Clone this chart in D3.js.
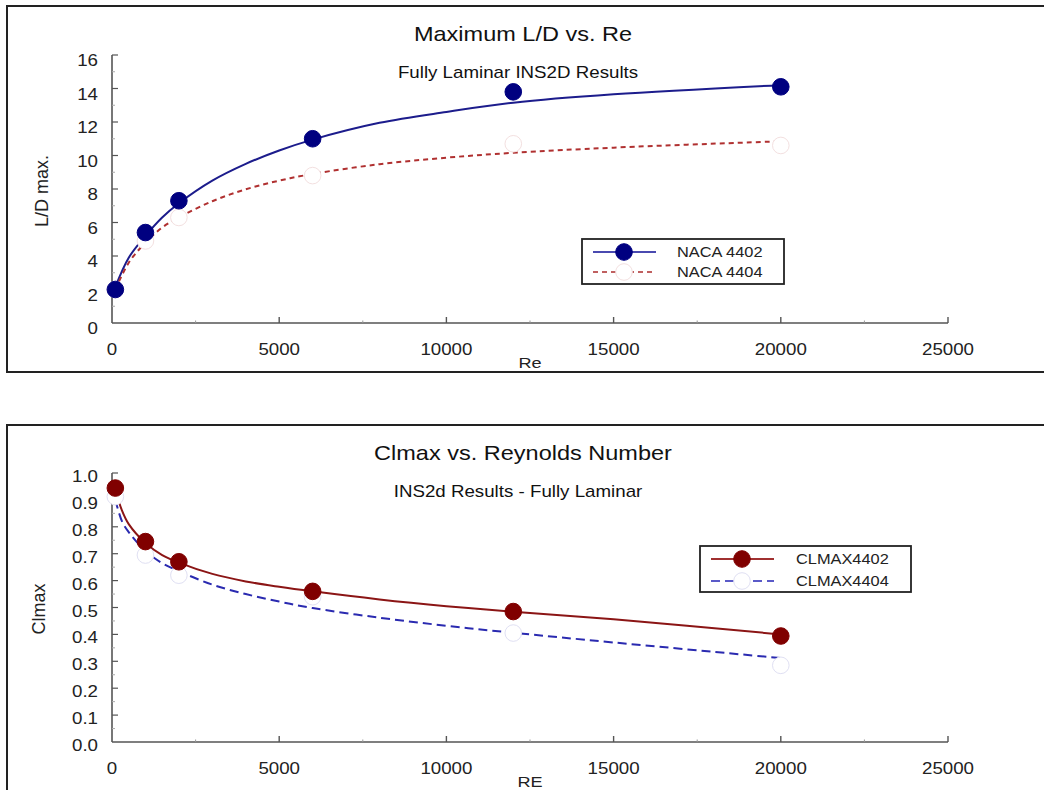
<!DOCTYPE html>
<html>
<head>
<meta charset="utf-8">
<script src="https://cdn.jsdelivr.net/npm/d3@7"></script>
<style>
  html, body { margin: 0; padding: 0; background: #fff; }
  svg { display: block; font-family: "Liberation Sans", Arial, Helvetica, sans-serif; }
</style>
</head>
<body>
<svg id="chart" width="1044" height="790"></svg>
<script>
// Reynolds numbers of the INS2D runs
const reValues = [100, 1000, 2000, 6000, 12000, 20000];

// Maximum lift-to-drag ratio
const ldNaca4402 = [2.0, 5.4, 7.3, 11.0, 13.8, 14.1];
const ldNaca4404 = [2.0, 4.9, 6.3, 8.8, 10.7, 10.6];

// Fitted trend curves for L/D max (Re, value)
const ldFitRe    = [100, 500, 1000, 1500, 2000, 3000, 4000, 5000, 6000, 8000, 10000, 12000, 15000, 20000];
const ldFit4402  = [2.15, 3.9, 5.2, 6.3, 7.15, 8.5, 9.5, 10.3, 10.95, 11.95, 12.6, 13.15, 13.65, 14.2];
const ldFit4404  = [2.0, 3.6, 4.8, 5.7, 6.3, 7.27, 7.98, 8.5, 8.9, 9.48, 9.87, 10.16, 10.47, 10.85];

// Maximum lift coefficient
const clNaca4402 = [0.944, 0.745, 0.67, 0.56, 0.485, 0.394];
const clNaca4404 = [0.912, 0.695, 0.62, 0.54, 0.405, 0.285];

// Fitted trend curves for Clmax
const clFitRe    = [100, 300, 500, 1000, 1500, 2000, 3000, 4000, 5000, 6000, 8000, 10000, 12000, 15000, 20000];
const clFit4402  = [0.94, 0.86, 0.81, 0.74, 0.695, 0.667, 0.625, 0.597, 0.577, 0.560, 0.530, 0.505, 0.484, 0.456, 0.400];
const clFit4404  = [0.90, 0.82, 0.78, 0.71, 0.665, 0.635, 0.585, 0.550, 0.522, 0.498, 0.462, 0.432, 0.406, 0.370, 0.312];

// Axis tick values
const xTicks    = [0, 5000, 10000, 15000, 20000, 25000];
const ldTicks   = [0, 2, 4, 6, 8, 10, 12, 14, 16];
const clTicks   = [0.0, 0.1, 0.2, 0.3, 0.4, 0.5, 0.6, 0.7, 0.8, 0.9, 1.0];

const svg = d3.select("#chart");
const WIDE = 1.17;   // horizontally widened lettering

function label(g, x, y, txt, opts) {
  const sx = opts.sx == null ? WIDE : opts.sx;
  return g.append("text")
    .attr("transform", `translate(${x},${y}) scale(${sx},1)`)
    .attr("text-anchor", opts.anchor || "middle")
    .attr("font-size", opts.size)
    .attr("fill", opts.fill || "#222")
    .text(txt);
}

function drawPanel(cfg) {
  const g = svg.append("g");

  // panel frame
  g.append("rect")
    .attr("x", cfg.frame[0]).attr("y", cfg.frame[1])
    .attr("width", cfg.frame[2]).attr("height", cfg.frame[3])
    .attr("fill", "none").attr("stroke", "#222").attr("stroke-width", 2);

  const x = d3.scaleLinear().domain([0, 25000]).range([112, 948]);
  const y = d3.scaleLinear().domain(cfg.yDomain).range(cfg.yRange);

  const axisCol = "#555";
  const y0 = y(cfg.yDomain[0]);
  g.append("line").attr("x1", x(0)).attr("x2", x(25000))
    .attr("y1", y0).attr("y2", y0)
    .attr("stroke", axisCol).attr("stroke-width", 1.6);
  g.append("line").attr("x1", x(0)).attr("x2", x(0))
    .attr("y1", y0).attr("y2", y(cfg.yDomain[1]))
    .attr("stroke", axisCol).attr("stroke-width", 1.6);

  // inward ticks on x
  g.selectAll(".xmaj").data(xTicks.slice(1)).join("line")
    .attr("x1", d => x(d)).attr("x2", d => x(d))
    .attr("y1", y0).attr("y2", y0 - 6)
    .attr("stroke", axisCol).attr("stroke-width", 1.4);
  g.selectAll(".xmin").data(d3.range(2500, 25000, 5000)).join("line")
    .attr("x1", d => x(d)).attr("x2", d => x(d))
    .attr("y1", y0).attr("y2", y0 - 2.5)
    .attr("stroke", "#999").attr("stroke-width", 1);
  xTicks.forEach(d => label(g, x(d), y0 + 32, d, { size: 16 }));

  // inward ticks on y
  g.selectAll(".ymaj").data(cfg.yTicks.slice(1)).join("line")
    .attr("x1", x(0)).attr("x2", x(0) + 6)
    .attr("y1", d => y(d)).attr("y2", d => y(d))
    .attr("stroke", axisCol).attr("stroke-width", 1.2);
  g.selectAll(".ymin").data(cfg.yMinor).join("line")
    .attr("x1", x(0)).attr("x2", x(0) + 3)
    .attr("y1", d => y(d)).attr("y2", d => y(d))
    .attr("stroke", "#aaa").attr("stroke-width", 1);
  cfg.yTicks.forEach(d => label(g, 98, y(d) + cfg.yLabDy, cfg.yFormat(d), { size: 16, anchor: "end" }));

  // titles and axis labels
  label(g, 523, cfg.titleY, cfg.title, { size: 21, sx: 1.12, fill: "#111" });
  label(g, 518, cfg.subY, cfg.subtitle, { size: 16, fill: "#111" });
  label(g, 530, cfg.xLabelY, cfg.xLabel, { size: 15.5 });
  g.append("text")
    .attr("transform", `translate(${cfg.yLabelX},${cfg.yLabelMid}) rotate(-90)`)
    .attr("text-anchor", "middle").attr("font-size", 18).attr("fill", "#222")
    .text(cfg.yLabel);

  const line = d3.line().x(d => x(d[0])).y(d => y(d[1])).curve(d3.curveCatmullRom.alpha(0.5));

  cfg.series.forEach(s => {
    g.append("path").attr("d", line(d3.zip(s.fitRe, s.fit)))
      .attr("fill", "none").attr("stroke", s.lineColor)
      .attr("stroke-width", 2)
      .attr("stroke-dasharray", s.dash || null);
  });
  // hollow markers first, filled markers on top
  [...cfg.series].reverse().forEach(s => {
    g.selectAll(null).data(d3.zip(reValues, s.values)).join("circle")
      .attr("cx", d => x(d[0])).attr("cy", d => y(d[1])).attr("r", 8.3)
      .attr("fill", s.markerFill).attr("stroke", s.markerStroke).attr("stroke-width", 1);
  });

  // legend
  const L = cfg.legend;
  g.append("rect").attr("x", L.x).attr("y", L.y).attr("width", L.w).attr("height", L.h)
    .attr("fill", "#fff").attr("stroke", "#222").attr("stroke-width", 1.8);
  cfg.series.forEach((s, i) => {
    const ly = L.y + L.row0 + i * L.gap;
    g.append("line").attr("x1", L.x + 11).attr("x2", L.x + 74)
      .attr("y1", ly).attr("y2", ly)
      .attr("stroke", s.legendColor).attr("stroke-width", 2)
      .attr("stroke-dasharray", s.dash || null);
    g.append("circle").attr("cx", L.x + 42).attr("cy", ly).attr("r", 8.3)
      .attr("fill", s.markerFill).attr("stroke", s.markerStroke).attr("stroke-width", 1);
    label(g, L.x + L.tx, ly + 5, s.name, { size: 14, anchor: "start" });
  });
}

drawPanel({
  frame: [7, 6, 1045, 366],
  yDomain: [0, 16], yRange: [323, 55],
  yTicks: ldTicks, yMinor: d3.range(1, 16, 2), yLabDy: 11,
  yFormat: d => d,
  title: "Maximum L/D vs. Re", titleY: 41,
  subtitle: "Fully Laminar INS2D Results", subY: 78,
  xLabel: "Re", xLabelY: 368,
  yLabel: "L/D max.", yLabelX: 48, yLabelMid: 191,
  series: [
    { name: "NACA 4402", values: ldNaca4402, fitRe: ldFitRe, fit: ldFit4402,
      lineColor: "#1c1c8c", legendColor: "#4a4ab0", markerFill: "#000080", markerStroke: "#000080" },
    { name: "NACA 4404", values: ldNaca4404, fitRe: ldFitRe, fit: ldFit4404,
      lineColor: "#b03030", legendColor: "#c06060", dash: "5,4",
      markerFill: "#fff", markerStroke: "#f3e0e0" }
  ],
  legend: { x: 582, y: 239, w: 202, h: 45, tx: 95, row0: 13, gap: 20 }
});

drawPanel({
  frame: [7, 425, 1045, 380],
  yDomain: [0, 1], yRange: [742, 473],
  yTicks: clTicks, yMinor: d3.range(0.05, 1.0, 0.1), yLabDy: 9,
  yFormat: d3.format(".1f"),
  title: "Clmax vs. Reynolds Number", titleY: 460,
  subtitle: "INS2d Results - Fully Laminar", subY: 497,
  xLabel: "RE", xLabelY: 787,
  yLabel: "Clmax", yLabelX: 45, yLabelMid: 609,
  series: [
    { name: "CLMAX4402", values: clNaca4402, fitRe: clFitRe, fit: clFit4402,
      lineColor: "#8b1515", legendColor: "#a03030", markerFill: "#800000", markerStroke: "#800000" },
    { name: "CLMAX4404", values: clNaca4404, fitRe: clFitRe, fit: clFit4404,
      lineColor: "#2a2ab0", legendColor: "#5a5ac8", dash: "9,5",
      markerFill: "#fff", markerStroke: "#e0e0f3" }
  ],
  legend: { x: 700, y: 546, w: 211, h: 46, tx: 96, row0: 13, gap: 22 }
});
</script>
</body>
</html>
